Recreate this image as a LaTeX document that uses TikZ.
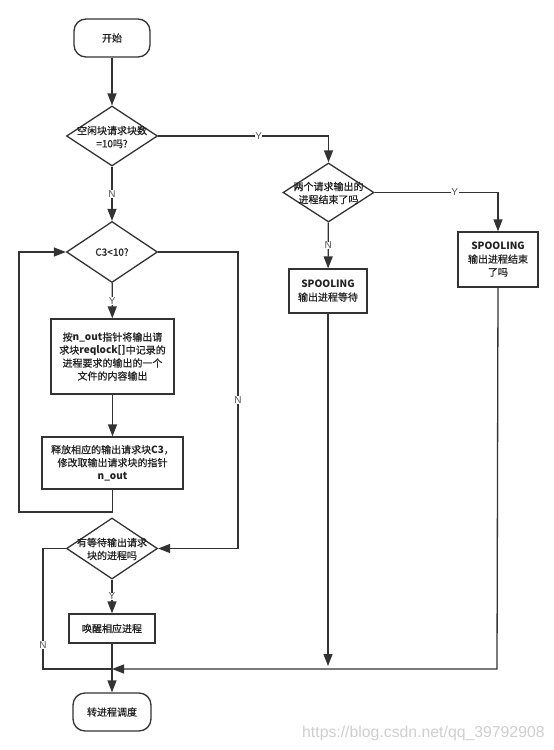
\documentclass[tikz,border=0pt]{standalone}
\usepackage{fontspec}
\setmainfont{Noto Sans CJK SC}[UprightFeatures={FakeBold=0.6}]
\newfontfamily\wmfont{Liberation Sans}
\usetikzlibrary{shapes.geometric,arrows.meta}
\definecolor{ln}{HTML}{333333}
\definecolor{tx}{HTML}{222222}
\definecolor{lb}{HTML}{555555}
\definecolor{wm}{HTML}{CFCFCF}
\begin{document}
\begin{tikzpicture}[x=1pt,y=-1pt,
  every node/.style={font=\fontsize{10}{13}\selectfont, text=tx},
  flow/.style={draw=ln, line width=1.3pt},
  arr/.style={flow, -{Triangle[length=12pt,width=9pt]}},
  term/.style={draw=ln, line width=1.3pt, rounded corners=12pt, minimum width=#1, minimum height=38pt, inner sep=0pt},
  proc/.style={draw=ln, line width=1.3pt, inner sep=0pt, align=center},
  dia/.style={draw=ln, line width=1.3pt, diamond, inner sep=0pt, minimum width=91pt, minimum height=60pt},
  dtext/.style={align=center, inner sep=0pt},
  yn/.style={fill=white, inner sep=0.5pt, text=lb, font=\fontsize{10}{12}\selectfont\wmfont}
]
\useasboundingbox (0,0) rectangle (554,750);
\fill[white] (0,0) rectangle (554,750);

% nodes
\node[term=76pt] (start) at (112,38) {开始};
\node[dia] (d1) at (112,136) {};
\node[dtext] (t1) at (112,137) {空闲块请求块数\\=10吗?};
\node[dia, minimum height=61pt] (d2) at (112,252) {};
\node[dtext] (t2) at (112,252) {C3<10?};
\node[proc, minimum width=123pt, minimum height=75pt] (b1) at (112.5,356.5) {按\textbf{n\_out}指针将输出请\\求块\textbf{reqlock[]}中记录的\\进程要求的输出的一个\\文件的内容输出};
\node[proc, minimum width=141pt, minimum height=52pt] (b2) at (112.5,463) {释放相应的输出请求块\textbf{C3}，\\修改取输出请求块的指针\\\textbf{n\_out}};
\node[dia, minimum height=61pt] (d3) at (112,548.5) {};
\node[dtext] (t3) at (112,549) {有等待输出请求\\块的进程吗};
\node[proc, minimum width=86pt, minimum height=29pt] (b3) at (112,628.5) {唤醒相应进程};
\node[term=78pt] (end) at (112,712) {转进程调度};
\node[dia, minimum height=59pt] (d4) at (328.5,192.5) {};
\node[dtext] (t4) at (328.5,193) {两个请求输出的\\进程结束了吗};
\node[proc, minimum width=78pt, minimum height=44pt] (b4) at (328,291) {\textbf{SPOOLING}\\输出进程等待};
\node[proc, minimum width=80pt, minimum height=55pt] (b5) at (498,259.5) {\textbf{SPOOLING}\\输出进程结束\\了吗};

% helper coordinates
\coordinate (c1) at (328.5,136);
\coordinate (c2) at (498,192.5);
\coordinate (c3) at (112.5,512);
\coordinate (c4) at (19,512);
\coordinate (c5) at (19,252);
\coordinate (c6) at (238,252);
\coordinate (c7) at (238,548.5);
\coordinate (c8) at (43,548.5);
\coordinate (c9) at (43,669);
\coordinate (m) at (112,669);
\coordinate (c10) at (328,666);
\coordinate (c11) at (497,669);

% connectors
\draw[arr] (start) -- (d1);
\draw[arr] (d1) -- node[yn, pos=0.5] {N} (d2);
\draw[arr] (d1.east) -- node[yn, pos=0.59] {Y} (c1) -- (d4.north);
\draw[arr] (d4.east) -- node[yn, pos=0.65] {Y} (c2) -- (b5.north);
\draw[arr] (d4) -- node[yn, pos=0.5] {N} (b4);
\draw[arr] (d2) -- node[yn, pos=0.5] {Y} (b1);
\draw[arr] (b1) -- (b2);
\draw[arr] (b2.south) -- (c3) -- (c4) -- (c5) -- (d2.west);
\draw[arr] (d2.east) -- (c6) -- node[yn, pos=0.5] {N} (c7) -- (d3.east);
\draw[arr] (d3) -- node[yn, pos=0.5] {Y} (b3);
\draw[flow] (d3.west) -- (c8) -- node[yn, pos=0.8] {N} (c9) -- (m);
\draw[arr] (b3) -- (end);
\draw[arr] (b4.south) -- (c10);
\draw[arr] (b5.south) -- (c11) -- (m);

% watermark
\node[anchor=base west, inner sep=0pt, text=wm, font=\fontsize{15.8}{16}\selectfont\wmfont] (wmk) at (302,737) {https://blog.csdn.net/qq\_39792908};
\end{tikzpicture}
\end{document}
